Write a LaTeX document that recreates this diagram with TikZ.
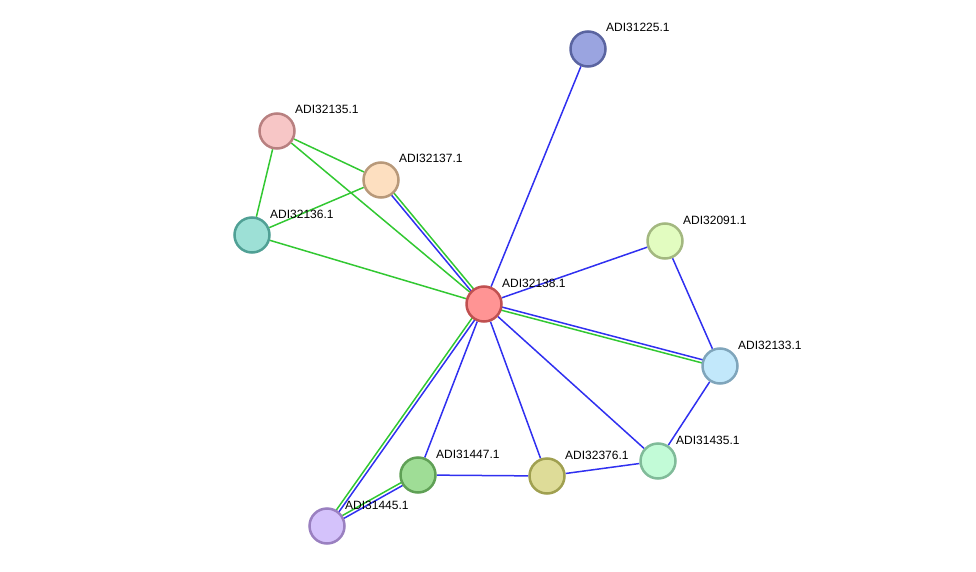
\documentclass[tikz,border=0pt]{standalone}
\usepackage{fontspec}
\setmainfont{Liberation Sans}
\usetikzlibrary{calc,backgrounds}
\definecolor{eblue}{RGB}{48,48,240}
\definecolor{egreen}{RGB}{50,200,50}
\newcommand\twin[4]{%
  \draw[#3] ($(#1.center)!1.6pt!90:(#2.center)$) -- ($(#2.center)!1.6pt!-90:(#1.center)$);
  \draw[#4] ($(#1.center)!1.6pt!-90:(#2.center)$) -- ($(#2.center)!1.6pt!90:(#1.center)$);}
\begin{document}
\begin{tikzpicture}[x=1pt,y=-1pt,
  prot/.style={circle,draw,line width=2.5pt,minimum size=35pt,inner sep=0pt},
  lbl/.style={anchor=base west,font=\fontsize{12}{14}\selectfont,inner sep=0pt},
  bl/.style={draw=eblue,line width=1.5pt},
  gr/.style={draw=egreen,line width=1.5pt}]
\useasboundingbox (0,0) rectangle (976,572);
\node[prot,fill={rgb,255:red,154;green,164;blue,224},draw={rgb,255:red,90;green,100;blue,160}] (n225) at (588,49) {};
\node[prot,fill={rgb,255:red,247;green,198;blue,198},draw={rgb,255:red,184;green,128;blue,128}] (n135) at (277,131) {};
\node[prot,fill={rgb,255:red,253;green,223;blue,192},draw={rgb,255:red,184;green,153;blue,122}] (n137) at (381,180) {};
\node[prot,fill={rgb,255:red,157;green,224;blue,214},draw={rgb,255:red,80;green,160;blue,149}] (n136) at (252,235) {};
\node[prot,fill={rgb,255:red,226;green,252;blue,192},draw={rgb,255:red,163;green,184;blue,128}] (n091) at (665,241) {};
\node[prot,fill={rgb,255:red,255;green,148;blue,148},draw={rgb,255:red,192;green,80;blue,80}] (n138) at (484,304) {};
\node[prot,fill={rgb,255:red,194;green,232;blue,251},draw={rgb,255:red,127;green,165;blue,187}] (n133) at (720,366) {};
\node[prot,fill={rgb,255:red,194;green,251;blue,215},draw={rgb,255:red,128;green,187;blue,153}] (n435) at (658,461) {};
\node[prot,fill={rgb,255:red,159;green,221;blue,150},draw={rgb,255:red,95;green,160;blue,85}] (n447) at (418,475) {};
\node[prot,fill={rgb,255:red,222;green,220;blue,152},draw={rgb,255:red,160;green,160;blue,80}] (n376) at (547,476) {};
\node[prot,fill={rgb,255:red,212;green,194;blue,251},draw={rgb,255:red,154;green,128;blue,192}] (n445) at (327,526) {};
\node[lbl] (l225) at (606,32) {ADI31225.1};
\node[lbl] (l135) at (295,114) {ADI32135.1};
\node[lbl] (l137) at (399,163) {ADI32137.1};
\node[lbl] (l136) at (270,218) {ADI32136.1};
\node[lbl] (l091) at (683,224) {ADI32091.1};
\node[lbl] (l138) at (502,287) {ADI32138.1};
\node[lbl] (l133) at (738,349) {ADI32133.1};
\node[lbl] (l435) at (676,444) {ADI31435.1};
\node[lbl] (l447) at (436,458) {ADI31447.1};
\node[lbl] (l376) at (565,459) {ADI32376.1};
\node[lbl] (l445) at (345,509) {ADI31445.1};
\begin{pgfonlayer}{background}
\draw[bl] (n138) -- (n225);
\draw[gr] (n135) -- (n137);
\draw[gr] (n135) -- (n136);
\draw[gr] (n135) -- (n138);
\draw[gr] (n137) -- (n136);
\draw[gr] (n136) -- (n138);
\twin{n137}{n138}{gr}{bl}
\draw[bl] (n138) -- (n091);
\draw[bl] (n091) -- (n133);
\twin{n138}{n133}{bl}{gr}
\draw[bl] (n138) -- (n435);
\draw[bl] (n133) -- (n435);
\draw[bl] (n138) -- (n376);
\draw[bl] (n138) -- (n447);
\twin{n138}{n445}{bl}{gr}
\twin{n447}{n445}{bl}{gr}
\draw[bl] (n447) -- (n376);
\draw[bl] (n376) -- (n435);
\end{pgfonlayer}
\end{tikzpicture}
\end{document}
